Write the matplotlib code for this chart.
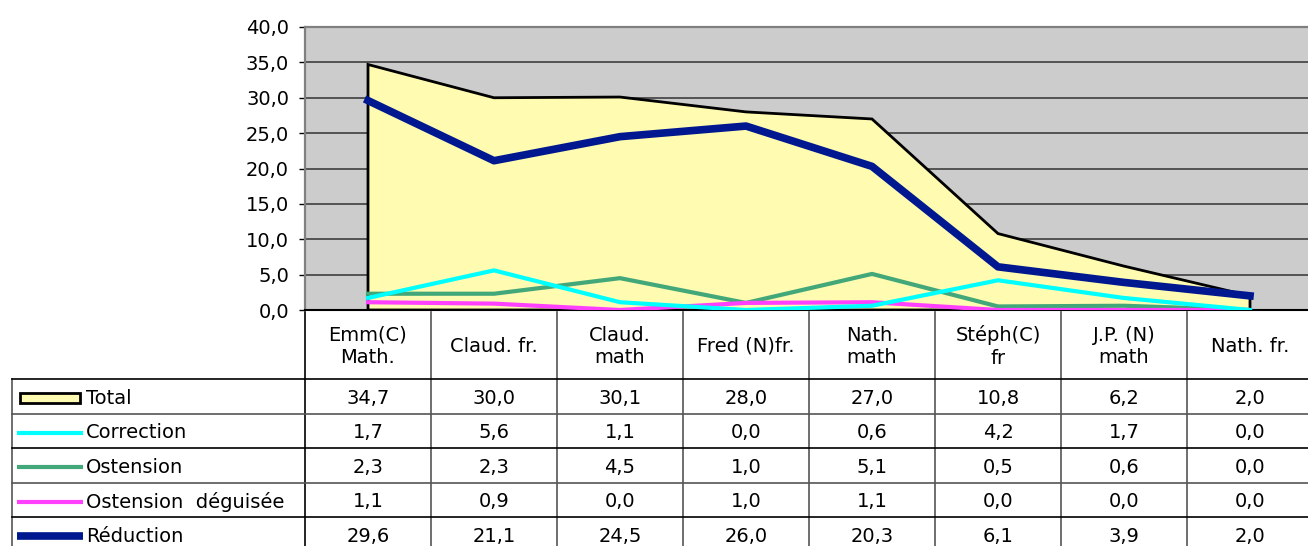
import numpy as np
import matplotlib
matplotlib.use("Agg")
import matplotlib.pyplot as plt
from matplotlib.patches import Rectangle

# categories (one column per teacher / lesson)
categories = ["Emm(C)\nMath.", "Claud. fr.", "Claud.\nmath", "Fred (N)fr.",
              "Nath.\nmath", "Stéph(C)\nfr", "J.P. (N)\nmath", "Nath. fr."]

total = [34.7, 30.0, 30.1, 28.0, 27.0, 10.8, 6.2, 2.0]
correction = [1.7, 5.6, 1.1, 0.0, 0.6, 4.2, 1.7, 0.0]
ostension = [2.3, 2.3, 4.5, 1.0, 5.1, 0.5, 0.6, 0.0]
ostension_deg = [1.1, 0.9, 0.0, 1.0, 1.1, 0.0, 0.0, 0.0]
reduction = [29.6, 21.1, 24.5, 26.0, 20.3, 6.1, 3.9, 2.0]

yticks = [0, 5, 10, 15, 20, 25, 30, 35, 40]

YELLOW = "#FFFBB0"
rows = [
    ("Total", total, YELLOW, None),
    ("Correction", correction, "#00FFFF", 3.0),
    ("Ostension", ostension, "#42A87A", 3.0),
    ("Ostension  déguisée", ostension_deg, "#FF40FF", 3.0),
    ("Réduction", reduction, "#00188F", 5.5),
]


def fmt(v):
    return f"{v:.1f}".replace(".", ",")


plt.rcParams["font.family"] = "DejaVu Sans"

# layout in pixels
W, H = 1308, 546
X0, COLW = 305, 126
Y_BOT, Y_TOP = 310, 27
HEAD_TOP, ROW_TOP, ROWH = 312, 379, 34.5
LAB_X0 = 12
FS = 14

fig = plt.figure(figsize=(W / 100, H / 100), dpi=100)

# table underneath the chart, drawn in pixel coordinates
tab = fig.add_axes([0, 0, 1, 1])
tab.set_xlim(0, W)
tab.set_ylim(H, 0)
tab.axis("off")

ncol = len(categories)
right = X0 + ncol * COLW
bottom = H + 20
for i in range(ncol + 1):
    xb = X0 + i * COLW
    tab.plot([xb, xb], [HEAD_TOP, bottom], color="black" if i == 0 else "#555555", lw=1.2)
tab.plot([LAB_X0, LAB_X0], [ROW_TOP, bottom], color="#555555", lw=1.2)
for r in range(len(rows) + 1):
    yb = ROW_TOP + r * ROWH
    tab.plot([LAB_X0, right], [yb, yb], color="black" if r % 2 == 0 else "#555555", lw=1.2)

for i, cat in enumerate(categories):
    tab.text(X0 + (i + 0.5) * COLW, (HEAD_TOP + ROW_TOP) / 2 + 1, cat,
             ha="center", va="center", fontsize=FS, linespacing=1.25)

for r, (name, vals, color, lw) in enumerate(rows):
    yc = ROW_TOP + (r + 0.5) * ROWH + 2
    if lw is None:
        tab.add_patch(Rectangle((20, yc - 5), 60, 10, facecolor=color,
                                edgecolor="black", lw=2))
    else:
        tab.plot([17, 83], [yc, yc], color=color, lw=lw, solid_capstyle="butt")
    tab.text(86, yc, name, ha="left", va="center", fontsize=FS)
    for i, v in enumerate(vals):
        tab.text(X0 + (i + 0.5) * COLW, yc, fmt(v), ha="center", va="center", fontsize=FS)

# chart area
ax = fig.add_axes([X0 / W, 1 - Y_BOT / H, ncol * COLW / W, (Y_BOT - Y_TOP) / H])
ax.set_facecolor("#CCCCCC")
x = np.arange(ncol)

ax.fill(np.r_[x[0], x, x[-1]], np.r_[0, total, 0], facecolor=YELLOW,
        edgecolor="black", lw=2, zorder=2)
ax.plot(x, ostension, color="#42A87A", lw=3, zorder=3)
ax.plot(x, ostension_deg, color="#FF40FF", lw=3, zorder=3)
ax.plot(x, correction, color="#00FFFF", lw=3, zorder=3)
ax.plot(x, reduction, color="#00188F", lw=5.5, zorder=4)

ax.set_xlim(-0.5, ncol - 0.5)
ax.set_ylim(0, 40)
ax.set_xticks([])
ax.set_yticks(yticks)
ax.set_yticklabels([fmt(v) for v in yticks], fontsize=FS)
ax.tick_params(axis="y", length=4.5, width=1, color="black", pad=7)
ax.yaxis.grid(True, color="#333333", lw=1.1)
ax.set_axisbelow(True)

for side in ("left", "top"):
    ax.spines[side].set_color("#808080")
    ax.spines[side].set_linewidth(1.6)
ax.spines["bottom"].set_color("black")
ax.spines["bottom"].set_linewidth(1.5)
ax.spines["right"].set_visible(False)

fig.savefig("out.png", dpi=100)
